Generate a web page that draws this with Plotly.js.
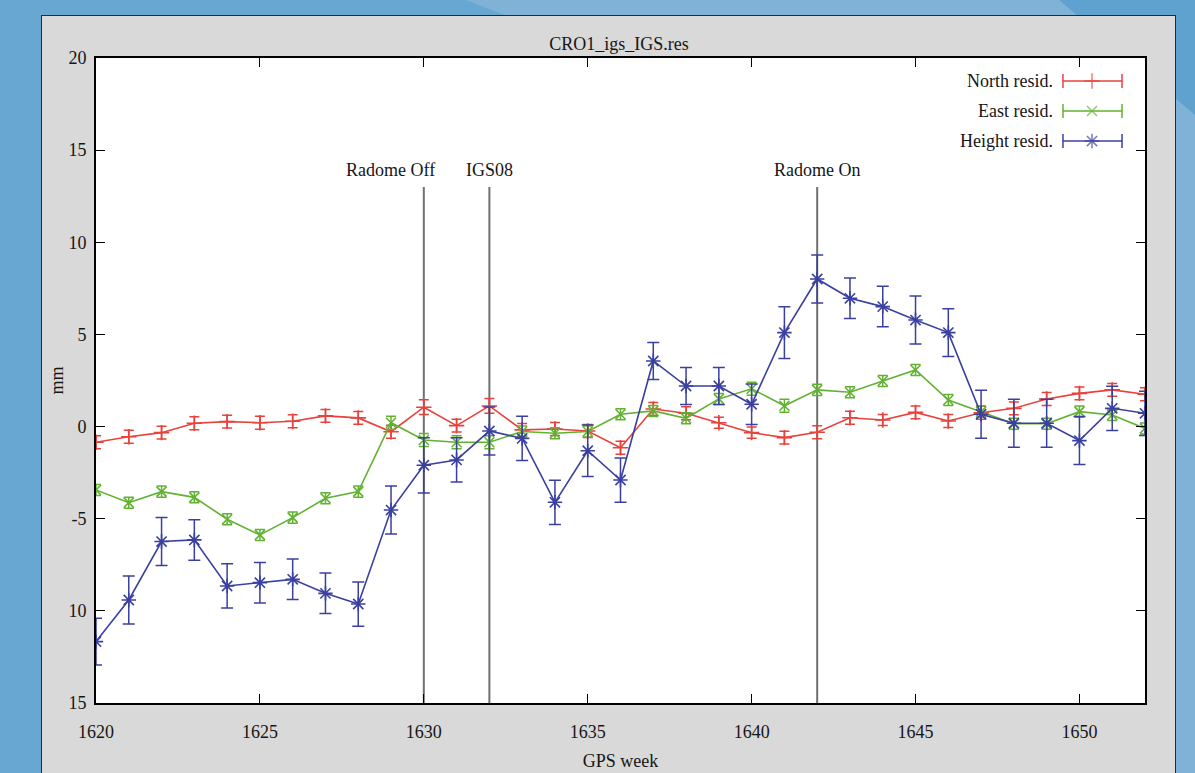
<!DOCTYPE html>
<html>
<head>
<meta charset="utf-8">
<script src="https://cdn.plot.ly/plotly-3.0.1.min.js"></script>
<style>
  html, body { margin: 0; padding: 0; width: 1195px; height: 773px; overflow: hidden; background: #67a7d1; }
  #topdark { position: absolute; left: 0; top: 0; width: 1195px; height: 773px;
    background: #5fa2cf; clip-path: polygon(1059px 0, 1195px 0, 1195px 115px); }
  #bgband { position: absolute; left: 0; top: 0; width: 1195px; height: 773px;
    background: #80b2d8; clip-path: polygon(466px 0, 1059px 0, 1195px 115px, 1195px 773px, 1100px 773px, 620px 60px); }
  #panel { position: absolute; left: 41px; top: 15px; width: 1135px; height: 770px; background: #d9d9d9;
    border: 1.5px solid #2a2a2a; box-sizing: border-box; }
  #chart { position: absolute; left: 0; top: 0; width: 1195px; height: 773px; }
</style>
</head>
<body>
<div id="topdark"></div>
<div id="bgband"></div>
<div id="panel"></div>
<div id="chart"></div>
<script>
const weeks = [1620,1621,1622,1623,1624,1625,1626,1627,1628,1629,1630,1631,1632,1633,1634,1635,1636,1637,1638,1639,1640,1641,1642,1643,1644,1645,1646,1647,1648,1649,1650,1651,1652];
const north = [-0.85,-0.55,-0.33,0.18,0.27,0.21,0.29,0.58,0.47,-0.28,1.05,0.05,1.12,-0.18,-0.13,-0.24,-1.15,0.95,0.72,0.21,-0.33,-0.6,-0.31,0.48,0.36,0.77,0.3,0.75,0.99,1.5,1.8,1.99,1.75];
const northErr = [0.35,0.35,0.35,0.35,0.35,0.35,0.35,0.35,0.35,0.35,0.4,0.35,0.4,0.35,0.35,0.35,0.35,0.35,0.35,0.3,0.3,0.35,0.35,0.35,0.3,0.35,0.35,0.35,0.35,0.35,0.35,0.35,0.35];
const east = [-3.44,-4.13,-3.53,-3.84,-5.03,-5.88,-4.94,-3.89,-3.53,0.21,-0.73,-0.85,-0.85,-0.27,-0.36,-0.27,0.67,0.85,0.45,1.5,2.05,1.13,1.99,1.86,2.47,3.07,1.44,0.81,0.15,0.15,0.81,0.63,-0.1];
const eastErr = [0.3,0.3,0.3,0.3,0.3,0.3,0.3,0.3,0.3,0.35,0.35,0.35,0.35,0.3,0.3,0.3,0.3,0.3,0.3,0.3,0.35,0.35,0.3,0.3,0.3,0.3,0.3,0.3,0.3,0.3,0.3,0.3,0.3];
const height = [-11.67,-9.41,-6.24,-6.15,-8.65,-8.47,-8.29,-9.05,-9.63,-4.53,-2.1,-1.81,-0.24,-0.64,-4.11,-1.31,-2.9,3.56,2.2,2.2,1.21,5.1,8.01,6.96,6.51,5.78,5.1,0.67,0.18,0.18,-0.76,0.99,0.72];
const heightErr = [1.27,1.3,1.3,1.1,1.2,1.1,1.1,1.1,1.2,1.3,1.5,1.2,1.3,1.2,1.2,1.4,1.2,1.0,1.0,1.0,1.1,1.4,1.3,1.1,1.1,1.3,1.3,1.3,1.3,1.3,1.3,1.2,1.2];
const seriesNames = ['North resid.', 'East resid.', 'Height resid.'];
const eventWeeks = [1630, 1632, 1642];
const eventLabels = ['Radome Off', 'IGS08', 'Radome On'];
const eventTop = 13;
const xTickVals = [1620,1625,1630,1635,1640,1645,1650];
const yTickVals = [-15,-10,-5,0,5,10,15,20];
const yTickText = ['15','10','-5','0','5','10','15','20'];

const colors = ['#e8423c', '#62b232', '#3a40a0'];
const symbols = ['cross-thin-open', 'x-thin-open', 'asterisk-open'];
const msize = [11, 10, 12];
const capw = [5, 5, 6];
const vals = [north, east, height];
const errs = [northErr, eastErr, heightErr];
const font = '"Liberation Serif", "Times New Roman", Times, serif';
const txt = '#161616';

const traces = [];
for (let i = 0; i < 3; i++) {
  traces.push({
    x: weeks, y: vals[i], type: 'scatter', mode: 'lines+markers', name: seriesNames[i],
    line: { color: colors[i], width: 1.6 },
    marker: { symbol: symbols[i], size: msize[i], color: colors[i], line: { color: colors[i], width: 1.6 } },
    error_y: { type: 'data', array: errs[i], visible: true, color: colors[i], thickness: 1.5, width: capw[i] },
    showlegend: false, hoverinfo: 'x+y'
  });
}
// legend samples (gnuplot style: text then sample), on overlay axes 0..1
const legY = [0.9643, 0.9178, 0.8713];
for (let i = 0; i < 3; i++) {
  traces.push({
    x: [0.9218, 0.9495, 0.9781], y: [legY[i], legY[i], legY[i]], xaxis: 'x2', yaxis: 'y2',
    type: 'scatter', mode: 'lines+markers', showlegend: false, hoverinfo: 'skip',
    line: { color: colors[i], width: 1.5 },
    marker: { symbol: symbols[i], size: [0, msize[i], 0], color: colors[i], line: { color: colors[i], width: 1.5 } },
    error_y: { type: 'data', array: [0.011, 0, 0.011], visible: true, color: colors[i], thickness: 1.5, width: 0 }
  });
}

const shapes = eventWeeks.map(w => ({
  type: 'line', xref: 'x', yref: 'y', x0: w, x1: w, y0: eventTop, y1: -15,
  line: { color: '#707070', width: 2 }, layer: 'below'
}));
const labelShift = [-33, 0, 0];
const annotations = eventWeeks.map((w, i) => ({
  x: w, y: eventTop, xref: 'x', yref: 'y', text: eventLabels[i], showarrow: false,
  yanchor: 'bottom', xanchor: 'center', xshift: labelShift[i], yshift: 5,
  font: { family: font, size: 18, color: txt }
}));
seriesNames.forEach((n, i) => annotations.push({
  x: 0.9142, y: legY[i], xref: 'paper', yref: 'paper', text: n, showarrow: false,
  xanchor: 'right', yanchor: 'middle', font: { family: font, size: 18, color: txt }
}));

const layout = {
  width: 1195, height: 773,
  margin: { l: 96, r: 50, t: 58, b: 70 },
  paper_bgcolor: 'rgba(0,0,0,0)', plot_bgcolor: '#ffffff',
  title: { text: 'CRO1_igs_IGS.res', x: 0.518, xanchor: 'center', y: 0.944, yanchor: 'middle', font: { family: font, size: 18, color: txt } },
  font: { family: font, size: 18, color: txt },
  xaxis: {
    range: [1620, 1652], tickvals: xTickVals, ticks: 'inside', ticklen: 9, tickwidth: 1, tickcolor: '#000',
    showline: true, linecolor: '#000', linewidth: 2, mirror: 'ticks', showgrid: false, zeroline: false,
    ticklabelstandoff: 11, tickfont: { family: font, size: 18, color: txt },
    title: { text: 'GPS week', font: { family: font, size: 18, color: txt }, standoff: 14 }
  },
  yaxis: {
    range: [-15, 20], tickvals: yTickVals, ticktext: yTickText, ticks: 'inside', ticklen: 9, tickwidth: 1, tickcolor: '#000',
    showline: true, linecolor: '#000', linewidth: 2, mirror: 'ticks', showgrid: false, zeroline: false,
    ticklabelstandoff: 4, tickfont: { family: font, size: 18, color: txt },
    title: { text: 'mm', font: { family: font, size: 18, color: txt }, standoff: 0 }
  },
  xaxis2: { overlaying: 'x', range: [0, 1], visible: false, fixedrange: true },
  yaxis2: { overlaying: 'y', range: [0, 1], visible: false, fixedrange: true },
  shapes: shapes, annotations: annotations, showlegend: false
};
Plotly.newPlot('chart', traces, layout, { displayModeBar: false, staticPlot: true });
</script>
</body>
</html>
